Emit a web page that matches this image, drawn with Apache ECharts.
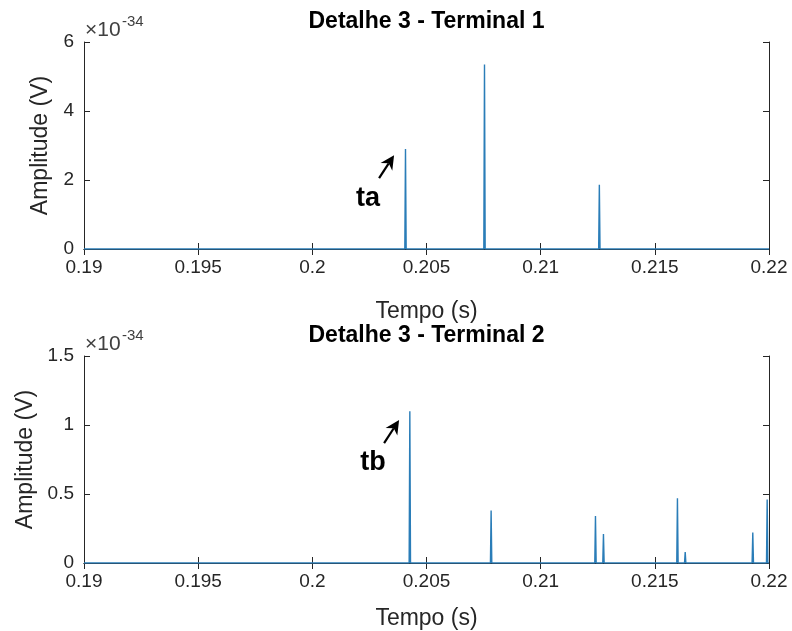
<!DOCTYPE html>
<html>
<head>
	<meta charset="utf-8" />
	<script src="https://cdn.jsdelivr.net/npm/echarts@6/dist/echarts.min.js"></script>
</head>
<body style="margin:0; background-color:#ffffff">
	<div id="main" style="width:792px; height:631px;"></div>
<script type="text/javascript">
	// time axis (s)
	var xMin = 0.19, xMax = 0.22, xStep = 0.005;

	// Terminal 1 spikes (amplitude in units of 1e-34 V)
	var spikeTime1 = [0.20408, 0.20754, 0.21257, 0.2158, 0.2194];
	var spikeAmp1 = [2.9, 5.35, 1.86, 0.03, 0.03];

	// Terminal 2 spikes
	var spikeTime2 = [0.20427, 0.20783, 0.2124, 0.21275, 0.21599, 0.21633, 0.21929, 0.21992];
	var spikeAmp2 = [1.10, 0.38, 0.34, 0.21, 0.47, 0.08, 0.22, 0.46];

	var titles = ['Detalhe 3 - Terminal 1', 'Detalhe 3 - Terminal 2'];
	var yMax = [6, 1.5];
	var yStep = [2, 0.5];

	// annotations: label, arrow tip in data coords
	var notes = [
		{ grid: 0, label: 'ta', tip: [0.20358, 2.72] },
		{ grid: 1, label: 'tb', tip: [0.2038, 1.036] }
	];

	var tickFont = 'Liberation Sans, Arial, sans-serif';
	var axisColor = '#262626';

	function spikeLine(times, amps) {
		var pts = [[xMin, 0]];
		var w = 0.00003;
		for (var i = 0; i < times.length; i++) {
			pts.push([times[i] - w, 0], [times[i], amps[i]], [times[i] + w, 0]);
		}
		pts.push([xMax, 0]);
		return pts;
	}

	var grids = [
		{ left: 84, top: 42, width: 685, height: 207 },
		{ left: 84, top: 356, width: 685, height: 207 }
	];

	var xAxes = [], yAxes = [];
	for (var g = 0; g < 2; g++) {
		xAxes.push({
			type: 'value', gridIndex: g, min: xMin, max: xMax, interval: xStep,
			name: 'Tempo (s)', nameLocation: 'middle', nameGap: g === 0 ? 51 : 44,
			nameTextStyle: { fontFamily: tickFont, fontSize: 23, color: axisColor },
			axisLine: { lineStyle: { color: axisColor, width: 1 } },
			axisTick: { inside: true, length: 6, lineStyle: { color: axisColor } },
			axisLabel: {
				fontFamily: tickFont, fontSize: 19, color: axisColor, margin: 9,
				formatter: function (v) { return String(+v.toFixed(3)); }
			},
			splitLine: { show: false }
		});
		xAxes.push({
			type: 'value', gridIndex: g, position: 'top', min: xMin, max: xMax, interval: xStep,
			axisLine: { lineStyle: { color: axisColor, width: 1 } },
			axisTick: { inside: true, length: 6, lineStyle: { color: axisColor } },
			axisLabel: { show: false },
			splitLine: { show: false }
		});
		yAxes.push({
			type: 'value', gridIndex: g, min: 0, max: yMax[g], interval: yStep[g],
			name: 'Amplitude (V)', nameLocation: 'middle', nameGap: g === 0 ? 20 : 28,
			nameTextStyle: { fontFamily: tickFont, fontSize: 23, color: axisColor },
			axisLine: { show: true, lineStyle: { color: axisColor, width: 1 } },
			axisTick: { show: true, inside: true, length: 6, lineStyle: { color: axisColor } },
			axisLabel: { fontFamily: tickFont, fontSize: 19, color: axisColor, margin: 10 },
			splitLine: { show: false }
		});
		yAxes.push({
			type: 'value', gridIndex: g, position: 'right', min: 0, max: yMax[g], interval: yStep[g],
			axisLine: { show: true, lineStyle: { color: axisColor, width: 1 } },
			axisTick: { show: true, inside: true, length: 6, lineStyle: { color: axisColor } },
			axisLabel: { show: false },
			splitLine: { show: false }
		});
	}

	var lineColor = '#2a7db8';
	var myChart = echarts.init(document.getElementById('main'));

	var option = {
		backgroundColor: '#ffffff',
		animation: false,
		grid: grids,
		xAxis: xAxes,
		yAxis: yAxes,
		series: [
			{
				type: 'line', xAxisIndex: 0, yAxisIndex: 0, data: spikeLine(spikeTime1, spikeAmp1),
				showSymbol: false, lineStyle: { color: lineColor, width: 1.4 }, z: 5
			},
			{
				type: 'line', xAxisIndex: 2, yAxisIndex: 2, data: spikeLine(spikeTime2, spikeAmp2),
				showSymbol: false, lineStyle: { color: lineColor, width: 1.4 }, z: 5
			}
		]
	};
	myChart.setOption(option);

	// titles, exponent labels, arrows
	var gfx = [];
	for (var g = 0; g < 2; g++) {
		var gr = grids[g];
		gfx.push({
			type: 'text', x: gr.left + gr.width / 2, y: gr.top - 20,
			style: { text: titles[g], fontFamily: 'Liberation Sans, sans-serif', fontWeight: 'bold', fontSize: 23, fill: '#000', align: 'center', verticalAlign: 'middle' }
		});
		gfx.push({
			type: 'text', x: gr.left + 1, y: gr.top - 12,
			style: { text: '\u00d710', fontFamily: tickFont, fontSize: 21, fill: '#404040', align: 'left', verticalAlign: 'middle' }
		});
		gfx.push({
			type: 'text', x: gr.left + 38, y: gr.top - 20,
			style: { text: '-34', fontFamily: tickFont, fontSize: 15, fill: '#404040', align: 'left', verticalAlign: 'middle' }
		});
	}

	notes.forEach(function (n) {
		var tip = myChart.convertToPixel({ gridIndex: n.grid }, n.tip);
		var tail = [tip[0] - 15, tip[1] + 23];
		var dx = tip[0] - tail[0], dy = tip[1] - tail[1];
		var L = Math.sqrt(dx * dx + dy * dy);
		var ux = dx / L, uy = dy / L;
		var hl = 14, hw = 7;
		var base = [tip[0] - ux * hl, tip[1] - uy * hl];
		var notch = [tip[0] - ux * hl * 0.7, tip[1] - uy * hl * 0.7];
		gfx.push({
			type: 'line', shape: { x1: tail[0], y1: tail[1], x2: notch[0], y2: notch[1] },
			style: { stroke: '#000', lineWidth: 2.2 }
		});
		gfx.push({
			type: 'polygon',
			shape: { points: [tip, [base[0] - uy * hw, base[1] + ux * hw], notch, [base[0] + uy * hw, base[1] - ux * hw]] },
			style: { fill: '#000' }
		});
		gfx.push({
			type: 'text', x: tip[0] - 26, y: tip[1] + 43,
			style: { text: n.label, fontFamily: 'Liberation Sans, sans-serif', fontWeight: 'bold', fontSize: 27, fill: '#000', align: 'center', verticalAlign: 'middle' }
		});
	});

	myChart.setOption({ graphic: gfx });
</script>
</body>
</html>
